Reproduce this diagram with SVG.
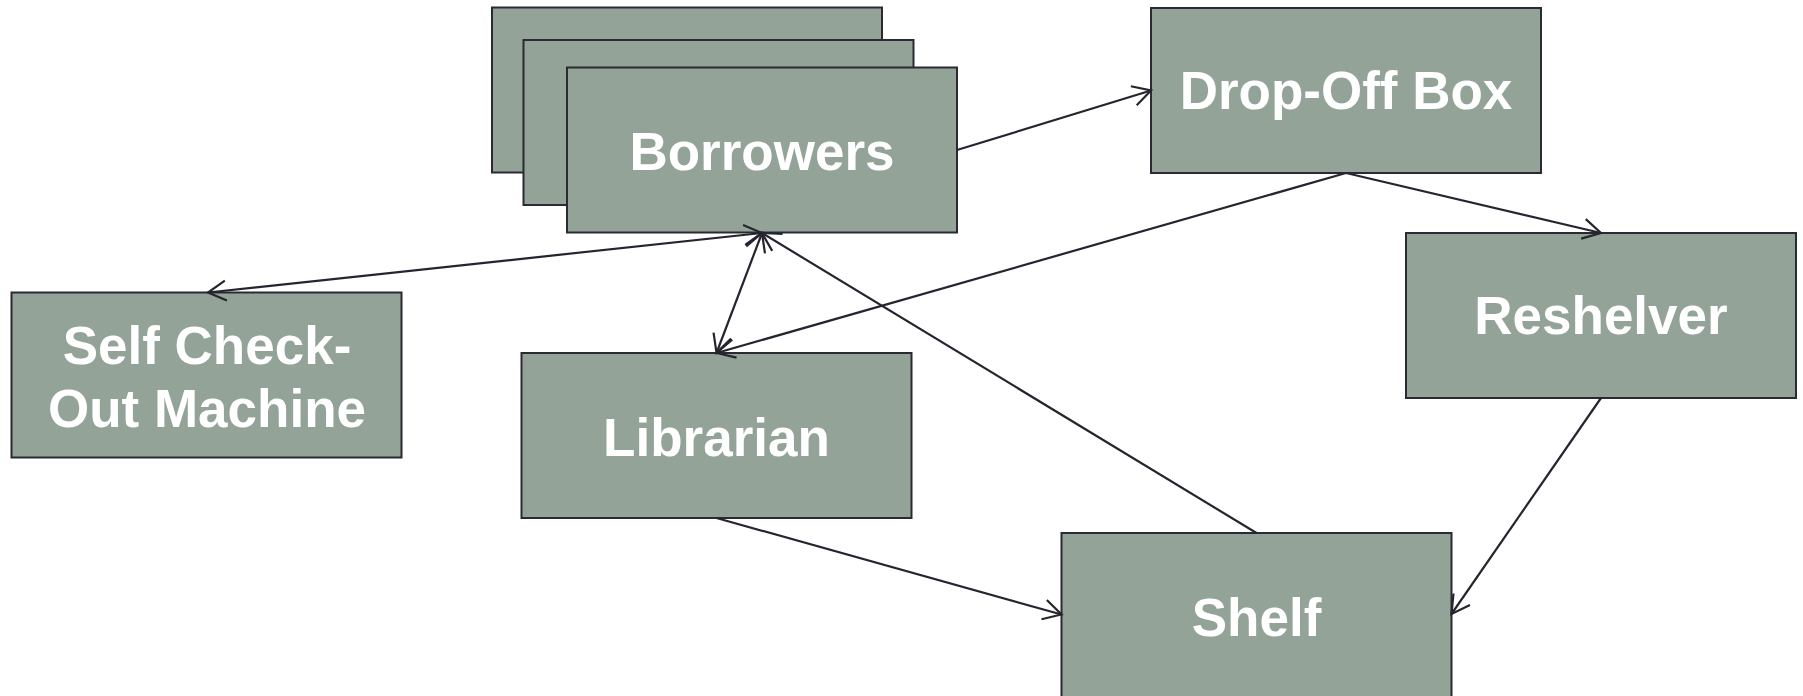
<svg xmlns="http://www.w3.org/2000/svg" width="1803" height="696" viewBox="0 0 1803 696">
<style>
.box{fill:#93a398;stroke:#2a2a33;stroke-width:2}
.lbl{font-family:"Liberation Sans",Arial,sans-serif;font-weight:bold;font-size:53px;fill:#ffffff;text-anchor:middle}
.conn{fill:none;stroke:#25252f;stroke-width:2.2}
</style>
<defs>
<marker id="arr" markerUnits="userSpaceOnUse" markerWidth="24" markerHeight="24" viewBox="-21 -12 24 24" refX="0" refY="0" orient="auto-start-reverse" overflow="visible">
<path d="M-18,-10 L0,0 L-18,10" fill="none" stroke="#25252f" stroke-width="2.2"/>
</marker>
</defs>
<rect width="1803" height="696" fill="#ffffff"/>
<g id="borrowers">
<rect class="box" x="492" y="7.5" width="390" height="165"/>
<rect class="box" x="523.5" y="40" width="390" height="165"/>
<rect class="box" x="567" y="67.5" width="390" height="165"/>
<text class="lbl" x="762" y="170">Borrowers</text>
</g>
<g id="dropoff">
<rect class="box" x="1151" y="8" width="390" height="165"/>
<text class="lbl" x="1346" y="109">Drop-Off Box</text>
</g>
<g id="reshelver">
<rect class="box" x="1406" y="233" width="390" height="165"/>
<text class="lbl" x="1601" y="334">Reshelver</text>
</g>
<g id="selfcheck">
<rect class="box" x="11.5" y="292.5" width="390" height="165"/>
<text class="lbl" x="207" y="364">Self Check-</text>
<text class="lbl" x="207" y="426.5">Out Machine</text>
</g>
<g id="librarian">
<rect class="box" x="521.5" y="353" width="390" height="165"/>
<text class="lbl" x="716.5" y="455.5">Librarian</text>
</g>
<g id="shelf">
<rect class="box" x="1061.5" y="533" width="390" height="165"/>
<text class="lbl" x="1256.5" y="636">Shelf</text>
</g>
<g id="connectors">
<line class="conn" x1="957" y1="150" x2="1151" y2="90.5" marker-end="url(#arr)"/>
<line class="conn" x1="1346" y1="173" x2="1601" y2="233" marker-end="url(#arr)"/>
<line class="conn" x1="1346" y1="173" x2="716.5" y2="353" marker-end="url(#arr)"/>
<line class="conn" x1="208" y1="292.5" x2="762" y2="233" marker-start="url(#arr)" marker-end="url(#arr)"/>
<line class="conn" x1="716.5" y1="353" x2="762" y2="233" marker-start="url(#arr)" marker-end="url(#arr)"/>
<line class="conn" x1="1256.5" y1="533" x2="762" y2="233" marker-end="url(#arr)"/>
<line class="conn" x1="716.5" y1="518" x2="1061.5" y2="614.5" marker-end="url(#arr)"/>
<line class="conn" x1="1601" y1="398" x2="1451.5" y2="614" marker-end="url(#arr)"/>
</g>
</svg>
